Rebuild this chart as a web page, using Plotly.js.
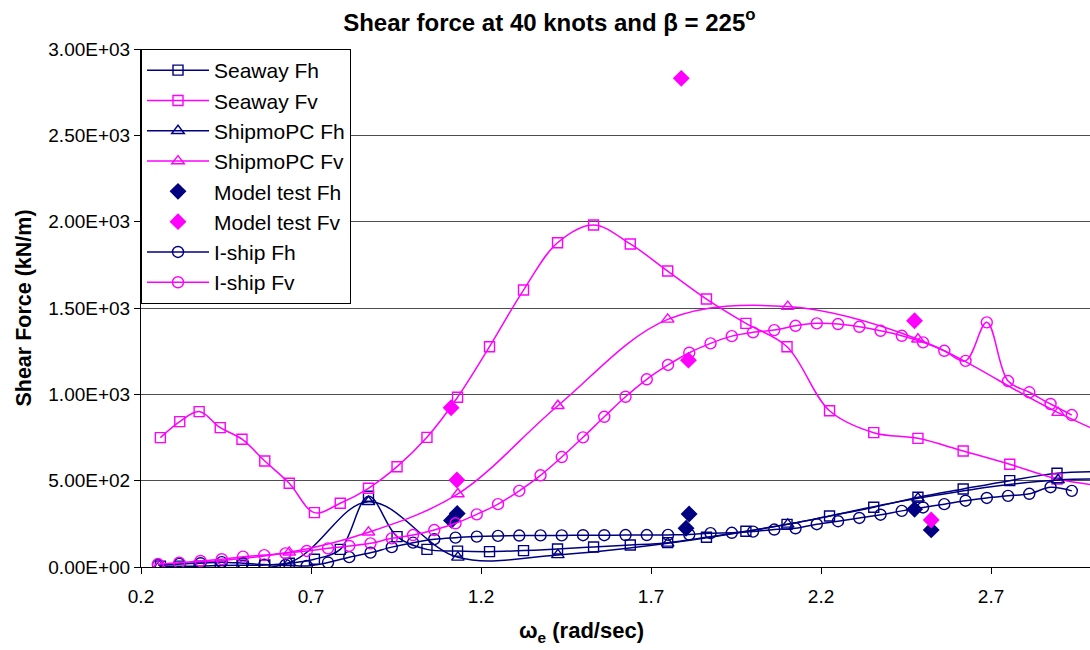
<!DOCTYPE html>
<html><head><meta charset="utf-8">
<script src="https://cdn.plot.ly/plotly-3.0.1.min.js"></script>
<style>html,body{margin:0;padding:0;background:#fff}#chart{width:1090px;height:650px}</style>
</head><body><div id="chart"></div>
<script>
// ---- data ----
const seawayX = [0.257,0.314,0.371,0.433,0.497,0.564,0.636,0.710,0.786,0.869,0.953,1.041,1.131,1.225,1.325,1.425,1.531,1.639,1.749,1.863,1.979,2.100,2.225,2.355,2.485,2.618,2.755,2.894,3.035];
const seawayFh = [5,5,5,8,10,12,22,45,102,410,176,102,92,89,95,104,116,127,141,172,207,247,295,346,404,452,500,543,553];
const seawayFv = [749,842,900,807,740,614,485,315,369,456,581,751,983,1276,1604,1878,1981,1871,1714,1552,1411,1276,905,778,745,672,595,510,468];

const shipmoX = [0.254,0.636,0.869,1.132,1.426,1.749,2.102,2.485,2.897,3.33];
const shipmoFh = [5,25,378,56,70,137,247,398,504,490];
const shipmoFv = [10,85,201,423,934,1434,1508,1319,894,520];

const modelFhX = [1.113,1.130,1.803,1.812,2.475,2.524];
const modelFh = [270,310,224,307,334,215];
const modelFvX = [1.112,1.129,1.789,1.810,2.475,2.524];
const modelFv = [922,504,2830,1198,1426,272];

const ishipX = [0.25,0.3125,0.375,0.4375,0.5,0.5625,0.625,0.6875,0.75,0.8125,0.875,0.9375,1.0,1.0625,1.125,1.1875,1.25,1.3125,1.375,1.4375,1.5,1.5625,1.625,1.6875,1.75,1.8125,1.875,1.9375,2.0,2.0625,2.125,2.1875,2.25,2.3125,2.375,2.4375,2.5,2.5625,2.625,2.6875,2.75,2.8125,2.875,2.9375];
const ishipFh = [12,18,22,28,22,14,12,6,26,57,83,115,141,161,170,176,180,182,183,183,184,184,185,185,186,188,196,198,205,217,224,248,265,284,303,325,345,364,384,400,412,424,462,441];
const ishipFv = [17,25,35,45,60,69,79,93,108,122,137,166,185,214,253,305,364,441,531,637,751,870,986,1087,1170,1241,1295,1337,1359,1372,1397,1411,1407,1391,1368,1339,1301,1252,1194,1417,1077,1012,944,880];

const xTickVals = [0.2,0.7,1.2,1.7,2.2,2.7];
const xTickText = ['0.2','0.7','1.2','1.7','2.2','2.7'];
const yTickVals = [0,500,1000,1500,2000,2500,3000];
const yTickText = ['0.00E+00','5.00E+02','1.00E+03','1.50E+03','2.00E+03','2.50E+03','3.00E+03'];

// ---- styling ----
const NAVY = '#000080', MAG = '#FF00FF';
const FONT = 'Liberation Sans, Arial, Helvetica, sans-serif';
const NARROW = 'Liberation Sans Narrow, Arial Narrow, Liberation Sans, Arial, sans-serif';

function lineTrace(name, x, y, color, symbol, size) {
  return {type:'scatter', mode:'lines+markers', name:name, x:x, y:y,
    line:{color:color, width:1.5, shape:'spline', smoothing:1},
    marker:{symbol:symbol, size:size, color:color, line:{color:color, width:1.4}},
    cliponaxis:true};
}
function dotTrace(name, x, y, color) {
  return {type:'scatter', mode:'markers', name:name, x:x, y:y,
    marker:{symbol:'diamond', size:13, color:color, line:{width:0}}};
}

const data = [
  lineTrace('Seaway Fh', seawayX, seawayFh, NAVY, 'square-open', 10),
  lineTrace('Seaway Fv', seawayX, seawayFv, MAG, 'square-open', 10),
  lineTrace('ShipmoPC Fh', shipmoX, shipmoFh, NAVY, 'triangle-up-open', 11),
  lineTrace('ShipmoPC Fv', shipmoX, shipmoFv, MAG, 'triangle-up-open', 11),
  dotTrace('Model test Fh', modelFhX, modelFh, NAVY),
  dotTrace('Model test Fv', modelFvX, modelFv, MAG),
  lineTrace('I-ship Fh', ishipX, ishipFh, NAVY, 'circle-open', 11),
  lineTrace('I-ship Fv', ishipX, ishipFv, MAG, 'circle-open', 11)
];

const layout = {
  width:1090, height:650,
  margin:{l:141, r:0, t:49, b:83, pad:0},
  paper_bgcolor:'#fff', plot_bgcolor:'#fff',
  font:{family:FONT, color:'#000'},
  showlegend:true,
  title:{text:'Shear force at 40 knots and β = 225<sup>o</sup>', font:{family:FONT, size:24, weight:'bold', color:'#000'},
    x:0.504, xref:'container', xanchor:'center', y:0.966, yref:'container', yanchor:'middle'},
  xaxis:{range:[0.2,2.991], tickmode:'array', tickvals:xTickVals, ticktext:xTickText,
    ticks:'outside', ticklen:6, tickcolor:'#000', tickwidth:1, ticklabelstandoff:6,
    showline:true, linecolor:'#000', linewidth:1, mirror:false,
    showgrid:false, zeroline:false,
    tickfont:{family:NARROW, size:19, color:'#000'}},
  yaxis:{range:[0,3000], tickmode:'array', tickvals:yTickVals, ticktext:yTickText,
    ticks:'outside', ticklen:6, tickcolor:'#000', tickwidth:1,
    showline:true, linecolor:'#000', linewidth:1,
    showgrid:true, gridcolor:'#4d4d4d', gridwidth:1, zeroline:false,
    tickfont:{family:NARROW, size:19, color:'#000'},
    title:{text:'Shear Force (kN/m)', font:{family:FONT, size:21.5, weight:'bold', color:'#000'}, standoff:10}},
  annotations:[{text:'ω<sub>e</sub> (rad/sec)', xref:'paper', yref:'paper', x:(581-141)/949, y:-(632-567)/518,
    xanchor:'center', yanchor:'middle', showarrow:false,
    font:{family:FONT, size:22, weight:'bold', color:'#000'}}],
  legend:{x:0, y:1, xref:'paper', yref:'paper', xanchor:'left', yanchor:'top',
    bgcolor:'#fff', bordercolor:'#000', borderwidth:1, itemwidth:62,
    font:{family:FONT, size:21, color:'#000'}, tracegroupgap:0}
};

Plotly.newPlot('chart', data, layout, {displayModeBar:false, staticPlot:true});
</script>
</body></html>
